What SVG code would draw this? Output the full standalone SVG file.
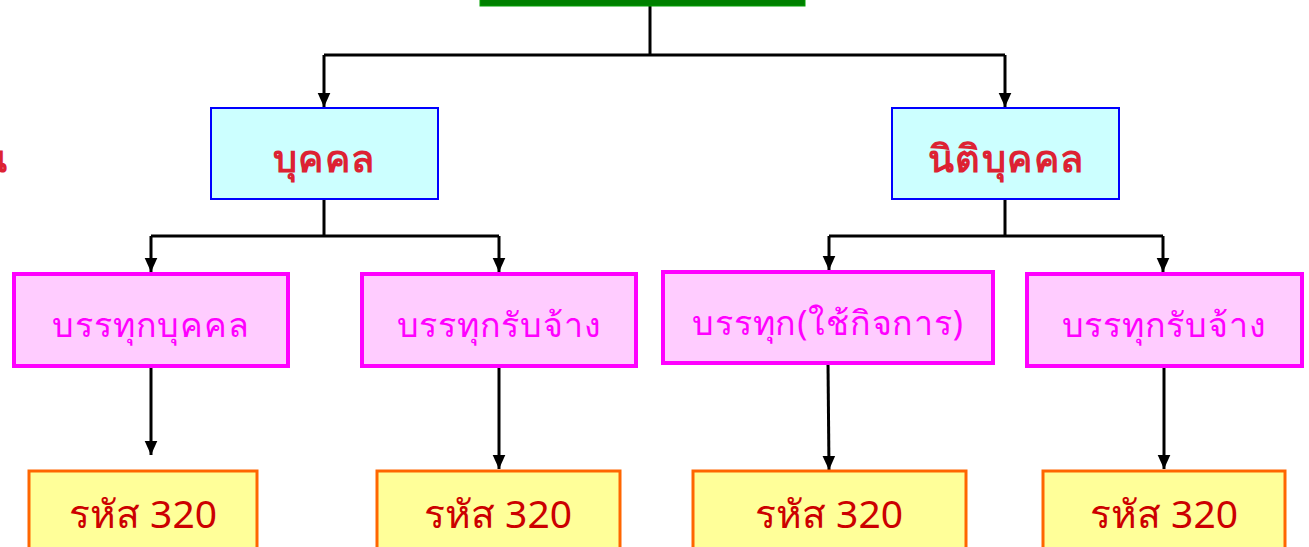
<svg xmlns="http://www.w3.org/2000/svg" width="1309" height="547" viewBox="0 0 1309 547">
<defs>
<marker id="ah" viewBox="0 0 10 10" refX="10" refY="5" markerWidth="14" markerHeight="14" markerUnits="userSpaceOnUse" orient="auto">
<path d="M0,0.5 L10,5 L0,9.5 z" fill="#000"/>
</marker>
<style>
.conn{fill:none;stroke:#000;stroke-width:3}
.top{fill:#008000;stroke:#00a000;stroke-width:1}
.l1{fill:#CCFFFF;stroke:#0000FF;stroke-width:2}
.l2{fill:#FFCCFF;stroke:#FF00FF;stroke-width:4}
.l3{fill:#FFFF99;stroke:#FF6600;stroke-width:3}
.t1{font-family:Tahoma,"Noto Sans","DejaVu Sans",sans-serif;font-size:38px;font-weight:bold;fill:#DD2233;text-anchor:middle;letter-spacing:1.5px}
.t2{font-family:Tahoma,"Noto Sans","DejaVu Sans",sans-serif;font-size:34px;fill:#FF00FF;text-anchor:middle;letter-spacing:0.8px}
.t3{font-family:Tahoma,"Noto Sans","DejaVu Sans",sans-serif;font-size:39px;fill:#CC0000;text-anchor:middle}
</style>
</defs>
<g id="connectors">
<path class="conn" d="M650,6 V55"/>
<path class="conn" d="M324,55 H1005"/>
<path class="conn" d="M324,55 V107" marker-end="url(#ah)"/>
<path class="conn" d="M1005,55 V107" marker-end="url(#ah)"/>
<path class="conn" d="M324,199 V236 M151,236 H499"/>
<path class="conn" d="M151,236 V272" marker-end="url(#ah)"/>
<path class="conn" d="M499,236 V272" marker-end="url(#ah)"/>
<path class="conn" d="M1005,199 V236 M829,236 H1163"/>
<path class="conn" d="M829,236 V270" marker-end="url(#ah)"/>
<path class="conn" d="M1163,236 V272" marker-end="url(#ah)"/>
<path class="conn" d="M151,366 V455" marker-end="url(#ah)"/>
<path class="conn" d="M499,366 V469" marker-end="url(#ah)"/>
<path class="conn" d="M828,363 L829,470" marker-end="url(#ah)"/>
<path class="conn" d="M1164,366 V469" marker-end="url(#ah)"/>
</g>
<g id="root"><rect class="top" x="480" y="-10" width="325" height="16"/></g>
<g id="fragment"><text class="t1" x="8" y="172" style="text-anchor:end">น</text></g>
<g id="n-person"><rect class="l1" x="211" y="108" width="227" height="91"/><text class="t1" x="324" y="172">บุคคล</text></g>
<g id="n-juristic"><rect class="l1" x="892" y="108" width="227" height="91"/><text class="t1" x="1006" y="172">นิติบุคคล</text></g>
<g id="n-truck-person"><rect class="l2" x="14" y="274" width="274" height="92"/><text class="t2" x="151" y="337">บรรทุกบุคคล</text></g>
<g id="n-truck-hire1"><rect class="l2" x="362" y="274" width="274" height="92"/><text class="t2" x="499" y="337">บรรทุกรับจ้าง</text></g>
<g id="n-truck-business"><rect class="l2" x="663" y="272" width="330" height="91"/><text class="t2" x="828" y="335">บรรทุก(ใช้กิจการ)</text></g>
<g id="n-truck-hire2"><rect class="l2" x="1027" y="274" width="275" height="92"/><text class="t2" x="1164" y="337">บรรทุกรับจ้าง</text></g>
<g id="c1"><rect class="l3" x="29" y="471" width="228" height="90"/><text class="t3" x="143" y="528">รหัส 320</text></g>
<g id="c2"><rect class="l3" x="377" y="471" width="243" height="90"/><text class="t3" x="498" y="528">รหัส 320</text></g>
<g id="c3"><rect class="l3" x="693" y="471" width="273" height="90"/><text class="t3" x="829" y="528">รหัส 320</text></g>
<g id="c4"><rect class="l3" x="1043" y="471" width="242" height="90"/><text class="t3" x="1164" y="528">รหัส 320</text></g>
</svg>
